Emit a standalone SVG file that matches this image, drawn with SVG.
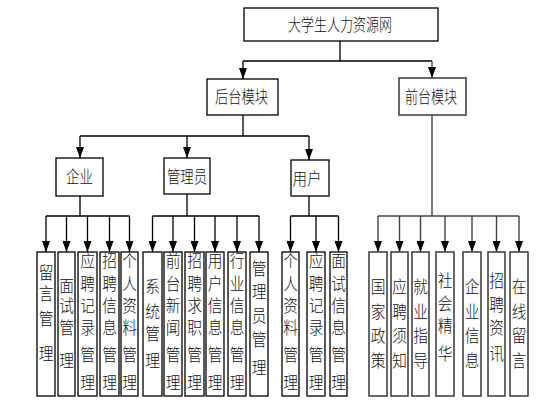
<svg xmlns="http://www.w3.org/2000/svg" width="557" height="415" viewBox="0 0 557 415">
<style>
.box{fill:#fff;stroke:#000;stroke-width:1.3}
.gbox{fill:#fff;stroke:#444;stroke-width:1.6}
.conn{stroke:#000;stroke-width:1.3;fill:none}
.gconn{stroke:#444;stroke-width:1.4;fill:none}
.lbl{font-family:"Noto Sans CJK SC","Noto Sans CJK JP",sans-serif;font-size:17px;font-weight:300;fill:#111;text-anchor:middle}
.v{font-family:"Noto Sans CJK SC","Noto Sans CJK JP",sans-serif;font-size:14px;font-weight:300;fill:#111;text-anchor:middle}
</style>
<defs>
<marker id="ah" markerUnits="userSpaceOnUse" viewBox="0 0 11 8" markerWidth="11" markerHeight="8" refX="11" refY="4" orient="auto">
<path d="M0,0 L11,4 L0,8 z" fill="#000"/>
</marker>
</defs>
<rect width="557" height="415" fill="#fff"/>

<g id="connectors">
<path class="conn" d="M340,41 V61 M243,61 H432"/>
<path class="conn" d="M243,61 V79" marker-end="url(#ah)"/>
<path class="gconn" d="M432,61 V78" marker-end="url(#ah)"/>
<path class="conn" d="M243,115 V136 M80,136 H309"/>
<path class="conn" d="M80,136 V158" marker-end="url(#ah)"/>
<path class="conn" d="M187,136 V158" marker-end="url(#ah)"/>
<path class="conn" d="M309,136 V160" marker-end="url(#ah)"/>
<path class="conn" d="M80,196 V216 M46,216 H129.5"/>
<path class="conn" d="M46,216 V252" marker-end="url(#ah)"/>
<path class="conn" d="M66.5,216 V252" marker-end="url(#ah)"/>
<path class="conn" d="M87.5,216 V252" marker-end="url(#ah)"/>
<path class="conn" d="M109.5,216 V252" marker-end="url(#ah)"/>
<path class="conn" d="M129.5,216 V252" marker-end="url(#ah)"/>
<path class="conn" d="M187,194 V216 M152.5,216 H259"/>
<path class="conn" d="M152.5,216 V252" marker-end="url(#ah)"/>
<path class="conn" d="M173,216 V252" marker-end="url(#ah)"/>
<path class="conn" d="M194.5,216 V252" marker-end="url(#ah)"/>
<path class="conn" d="M215,216 V252" marker-end="url(#ah)"/>
<path class="conn" d="M237,216 V252" marker-end="url(#ah)"/>
<path class="conn" d="M259,216 V252" marker-end="url(#ah)"/>
<path class="conn" d="M309,196 V216 M290.5,216 H338.5"/>
<path class="conn" d="M290.5,216 V252" marker-end="url(#ah)"/>
<path class="conn" d="M316,216 V252" marker-end="url(#ah)"/>
<path class="conn" d="M338.5,216 V252" marker-end="url(#ah)"/>
<path class="gconn" d="M432,115 V216 M378,216 H519"/>
<path class="gconn" d="M378,216 V252" marker-end="url(#ah)"/>
<path class="gconn" d="M399.5,216 V252" marker-end="url(#ah)"/>
<path class="gconn" d="M420.5,216 V252" marker-end="url(#ah)"/>
<path class="gconn" d="M445,216 V252" marker-end="url(#ah)"/>
<path class="gconn" d="M472,216 V252" marker-end="url(#ah)"/>
<path class="gconn" d="M496.5,216 V252" marker-end="url(#ah)"/>
<path class="gconn" d="M519,216 V252" marker-end="url(#ah)"/>
</g>

<g id="root"><rect class="box" x="244" y="8" width="194" height="33"/><text class="lbl" x="340" y="31" textLength="104" lengthAdjust="spacingAndGlyphs">大学生人力资源网</text></g>
<g id="backend"><rect class="box" x="207" y="79" width="71" height="36"/><text class="lbl" x="241.5" y="103" textLength="53" lengthAdjust="spacingAndGlyphs">后台模块</text></g>
<g id="frontend"><rect class="gbox" x="399" y="78" width="67" height="37"/><text class="lbl" x="431" y="103" textLength="52" lengthAdjust="spacingAndGlyphs">前台模块</text></g>
<g id="enterprise"><rect class="box" x="56" y="158" width="47" height="38"/><text class="lbl" x="79.5" y="183" textLength="27" lengthAdjust="spacingAndGlyphs">企业</text></g>
<g id="admin"><rect class="box" x="164" y="158" width="46" height="36"/><text class="lbl" x="187" y="183" textLength="40" lengthAdjust="spacingAndGlyphs">管理员</text></g>
<g id="user"><rect class="box" x="291" y="160" width="38" height="36"/><text class="lbl" x="307" y="185" textLength="29" lengthAdjust="spacingAndGlyphs">用户</text></g>

<g id="e1"><rect class="box" x="37" y="252" width="18" height="144"/><g transform="translate(46 0) scale(1.05 1.2)"><text class="v"><tspan x="0" y="232.92">留</tspan><tspan x="0" y="250.42">言</tspan><tspan x="0" y="271.25">管</tspan><tspan x="0" y="300.42">理</tspan></text></g></g>
<g id="e2"><rect class="box" x="58" y="252" width="17" height="144"/><g transform="translate(66.5 0) scale(1.05 1.2)"><text class="v"><tspan x="0" y="242.92">面</tspan><tspan x="0" y="260.42">试</tspan><tspan x="0" y="278.75">管</tspan><tspan x="0" y="305.42">理</tspan></text></g></g>
<g id="e3"><rect class="box" x="78" y="252" width="19" height="144"/><g transform="translate(87.5 0) scale(1.05 1.2)"><text class="v"><tspan x="0" y="222.92">应</tspan><tspan x="0" y="242.08">聘</tspan><tspan x="0" y="260.42">记</tspan><tspan x="0" y="278.75">录</tspan><tspan x="0" y="301.25">管</tspan><tspan x="0" y="324.58">理</tspan></text></g></g>
<g id="e4"><rect class="box" x="100" y="252" width="19" height="144"/><g transform="translate(109.5 0) scale(1.05 1.2)"><text class="v"><tspan x="0" y="222.92">招</tspan><tspan x="0" y="242.08">聘</tspan><tspan x="0" y="260.42">信</tspan><tspan x="0" y="278.75">息</tspan><tspan x="0" y="301.25">管</tspan><tspan x="0" y="324.58">理</tspan></text></g></g>
<g id="e5"><rect class="box" x="121" y="252" width="17" height="144"/><g transform="translate(129.5 0) scale(1.05 1.2)"><text class="v"><tspan x="0" y="222.92">个</tspan><tspan x="0" y="242.08">人</tspan><tspan x="0" y="260.42">资</tspan><tspan x="0" y="278.75">料</tspan><tspan x="0" y="301.25">管</tspan><tspan x="0" y="324.58">理</tspan></text></g></g>

<g id="a1"><rect class="box" x="143" y="252" width="19" height="144"/><g transform="translate(152.5 0) scale(1.05 1.2)"><text class="v"><tspan x="0" y="244.58">系</tspan><tspan x="0" y="265.42">统</tspan><tspan x="0" y="283.75">管</tspan><tspan x="0" y="305.42">理</tspan></text></g></g>
<g id="a2"><rect class="box" x="164" y="252" width="18" height="144"/><g transform="translate(173 0) scale(1.05 1.2)"><text class="v"><tspan x="0" y="222.92">前</tspan><tspan x="0" y="242.08">台</tspan><tspan x="0" y="260.42">新</tspan><tspan x="0" y="278.75">闻</tspan><tspan x="0" y="301.25">管</tspan><tspan x="0" y="324.58">理</tspan></text></g></g>
<g id="a3"><rect class="box" x="185" y="252" width="19" height="144"/><g transform="translate(194.5 0) scale(1.05 1.2)"><text class="v"><tspan x="0" y="222.92">招</tspan><tspan x="0" y="242.08">聘</tspan><tspan x="0" y="260.42">求</tspan><tspan x="0" y="278.75">职</tspan><tspan x="0" y="301.25">管</tspan><tspan x="0" y="324.58">理</tspan></text></g></g>
<g id="a4"><rect class="box" x="206" y="252" width="18" height="144"/><g transform="translate(215 0) scale(1.05 1.2)"><text class="v"><tspan x="0" y="222.92">用</tspan><tspan x="0" y="242.08">户</tspan><tspan x="0" y="260.42">信</tspan><tspan x="0" y="278.75">息</tspan><tspan x="0" y="301.25">管</tspan><tspan x="0" y="324.58">理</tspan></text></g></g>
<g id="a5"><rect class="box" x="228" y="252" width="18" height="144"/><g transform="translate(237 0) scale(1.05 1.2)"><text class="v"><tspan x="0" y="222.92">行</tspan><tspan x="0" y="242.08">业</tspan><tspan x="0" y="260.42">信</tspan><tspan x="0" y="278.75">息</tspan><tspan x="0" y="301.25">管</tspan><tspan x="0" y="324.58">理</tspan></text></g></g>
<g id="a6"><rect class="box" x="250" y="252" width="18" height="144"/><g transform="translate(259 0) scale(1.05 1.2)"><text class="v"><tspan x="0" y="229.58">管</tspan><tspan x="0" y="248.75">理</tspan><tspan x="0" y="267.92">员</tspan><tspan x="0" y="288.75">管</tspan><tspan x="0" y="312.08">理</tspan></text></g></g>

<g id="u1"><rect class="box" x="282" y="252" width="17" height="144"/><g transform="translate(290.5 0) scale(1.05 1.2)"><text class="v"><tspan x="0" y="222.92">个</tspan><tspan x="0" y="242.08">人</tspan><tspan x="0" y="260.42">资</tspan><tspan x="0" y="278.75">料</tspan><tspan x="0" y="301.25">管</tspan><tspan x="0" y="324.58">理</tspan></text></g></g>
<g id="u2"><rect class="box" x="307" y="252" width="18" height="144"/><g transform="translate(316 0) scale(1.05 1.2)"><text class="v"><tspan x="0" y="222.92">应</tspan><tspan x="0" y="242.08">聘</tspan><tspan x="0" y="260.42">记</tspan><tspan x="0" y="278.75">录</tspan><tspan x="0" y="301.25">管</tspan><tspan x="0" y="324.58">理</tspan></text></g></g>
<g id="u3"><rect class="box" x="330" y="252" width="17" height="144"/><g transform="translate(338.5 0) scale(1.05 1.2)"><text class="v"><tspan x="0" y="222.92">面</tspan><tspan x="0" y="242.08">试</tspan><tspan x="0" y="260.42">信</tspan><tspan x="0" y="278.75">息</tspan><tspan x="0" y="301.25">管</tspan><tspan x="0" y="324.58">理</tspan></text></g></g>

<g id="f1"><rect class="gbox" x="369" y="252" width="18" height="144"/><g transform="translate(378 0) scale(1.05 1.2)"><text class="v"><tspan x="0" y="244.58">国</tspan><tspan x="0" y="265.42">家</tspan><tspan x="0" y="285.42">政</tspan><tspan x="0" y="305.42">策</tspan></text></g></g>
<g id="f2"><rect class="gbox" x="391" y="252" width="17" height="144"/><g transform="translate(399.5 0) scale(1.05 1.2)"><text class="v"><tspan x="0" y="244.58">应</tspan><tspan x="0" y="265.42">聘</tspan><tspan x="0" y="285.42">须</tspan><tspan x="0" y="305.42">知</tspan></text></g></g>
<g id="f3"><rect class="gbox" x="412" y="252" width="17" height="144"/><g transform="translate(420.5 0) scale(1.05 1.2)"><text class="v"><tspan x="0" y="244.58">就</tspan><tspan x="0" y="265.42">业</tspan><tspan x="0" y="285.42">指</tspan><tspan x="0" y="305.42">导</tspan></text></g></g>
<g id="f4"><rect class="gbox" x="436" y="252" width="18" height="144"/><g transform="translate(445 0) scale(1.05 1.2)"><text class="v"><tspan x="0" y="239.58">社</tspan><tspan x="0" y="258.75">会</tspan><tspan x="0" y="277.08">精</tspan><tspan x="0" y="300.42">华</tspan></text></g></g>
<g id="f5"><rect class="gbox" x="463" y="252" width="18" height="144"/><g transform="translate(472 0) scale(1.05 1.2)"><text class="v"><tspan x="0" y="244.58">企</tspan><tspan x="0" y="265.42">业</tspan><tspan x="0" y="285.42">信</tspan><tspan x="0" y="305.42">息</tspan></text></g></g>
<g id="f6"><rect class="gbox" x="488" y="252" width="17" height="144"/><g transform="translate(496.5 0) scale(1.05 1.2)"><text class="v"><tspan x="0" y="239.58">招</tspan><tspan x="0" y="259.58">聘</tspan><tspan x="0" y="278.75">资</tspan><tspan x="0" y="300.42">讯</tspan></text></g></g>
<g id="f7"><rect class="gbox" x="510" y="252" width="18" height="144"/><g transform="translate(519 0) scale(1.05 1.2)"><text class="v"><tspan x="0" y="244.58">在</tspan><tspan x="0" y="265.42">线</tspan><tspan x="0" y="285.42">留</tspan><tspan x="0" y="305.42">言</tspan></text></g></g>
</svg>
